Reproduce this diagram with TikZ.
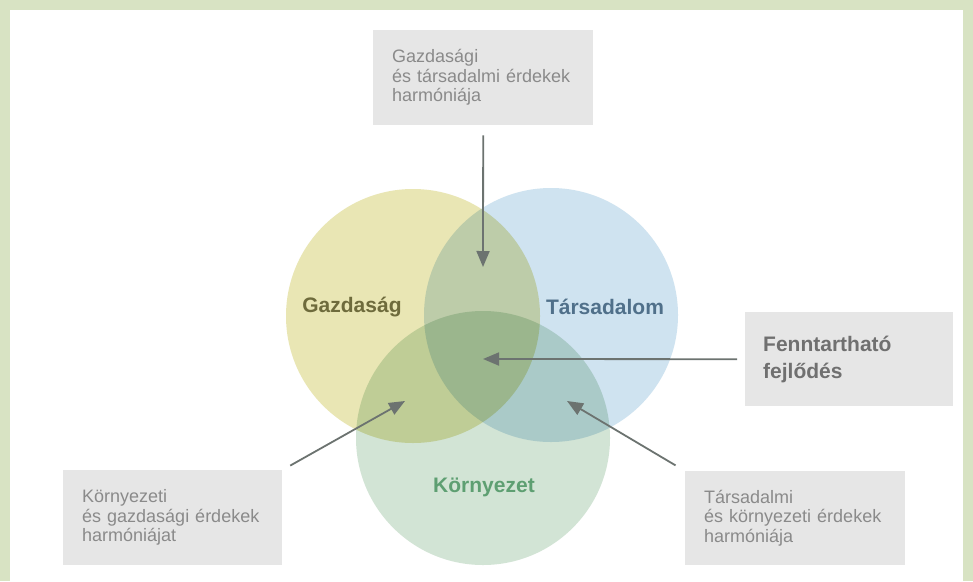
\documentclass[tikz,border=0pt]{standalone}
\usepackage{fontspec}
\setmainfont{Liberation Sans}
\usetikzlibrary{arrows.meta, positioning}
\usepackage{xcolor}
\definecolor{framegreen}{RGB}{216, 227, 195}
\definecolor{econyellow}{RGB}{233, 230, 180}
\definecolor{socblue}{RGB}{207, 227, 240}
\definecolor{envgreen}{RGB}{210, 228, 213}
\definecolor{boxgray}{RGB}{230, 230, 230}
\definecolor{textgray}{RGB}{138, 138, 138}
\definecolor{arrowgray}{RGB}{108, 115, 112}
\definecolor{econtext}{RGB}{110, 107, 60}
\definecolor{soctext}{RGB}{80, 112, 138}
\definecolor{envtext}{RGB}{94, 159, 114}

\begin{document}
\begin{tikzpicture}[
    x=1pt, y=-1pt,
    sphere/.style={circle, minimum size=254pt, inner sep=0pt},
    title/.style={font=\fontsize{21}{24}\selectfont\bfseries, inner sep=0pt},
    infobox/.style={rectangle, fill=boxgray, anchor=north west, align=left, text=textgray, inner xsep=19pt, inner ysep=0pt, font=\fontsize{18}{19.5}\selectfont},
    arrow/.style={-{Triangle[length=16pt, width=13pt]}, line width=1.8pt, color=arrowgray},
]
\useasboundingbox (0,0) rectangle (973,581);

% Frame
\fill[framegreen] (0,0) rectangle (973,581);
\fill[white] (10,10) rectangle (963,581);

% Circles
\begin{scope}[blend group=multiply]
\node[sphere, fill=econyellow] (econ) at (413,316) {};
\node[sphere, fill=socblue] (soc) at (551,315) {};
\node[sphere, fill=envgreen] (env) at (483,438) {};
\end{scope}

% Titles
\node[title, text=econtext] (econlabel) at (352,307) {Gazdaság};
\node[title, text=soctext] (soclabel) at (605,307) {Társadalom};
\node[title, text=envtext] (envlabel) at (484,487) {Környezet};

% Boxes
\node[infobox, text width=182pt, minimum height=95pt] (topbox) at (373,30) {Gazdasági\\és társadalmi érdekek\\harmóniája};
\node[infobox, text width=172pt, minimum height=94pt, inner xsep=18pt, text=black!56, font=\fontsize{21}{27}\selectfont\bfseries] (fennbox) at (745,312) {Fenntartható\\fejlődés};
\node[infobox, text width=181pt, minimum height=95pt] (leftbox) at (63,470) {Környezeti\\és gazdasági érdekek\\harmóniájat};
\node[infobox, text width=182pt, minimum height=94pt] (rightbox) at (685,471) {Társadalmi\\és környezeti érdekek\\harmóniája};

% Arrow tips
\coordinate (tipes) at (483,267);
\coordinate (tipall) at (483,359);
\coordinate (tipeg) at (405,401);
\coordinate (tipse) at (567,401);

% Arrows
\draw[arrow, shorten <=10pt] (topbox.south) -- (tipes);
\draw[arrow, shorten <=8pt] (fennbox.west) -- (tipall);
\draw[arrow, shorten <=9pt] (leftbox.north east) -- (tipeg);
\draw[arrow, shorten <=11pt] (rightbox.north west) -- (tipse);

\end{tikzpicture}
\end{document}
